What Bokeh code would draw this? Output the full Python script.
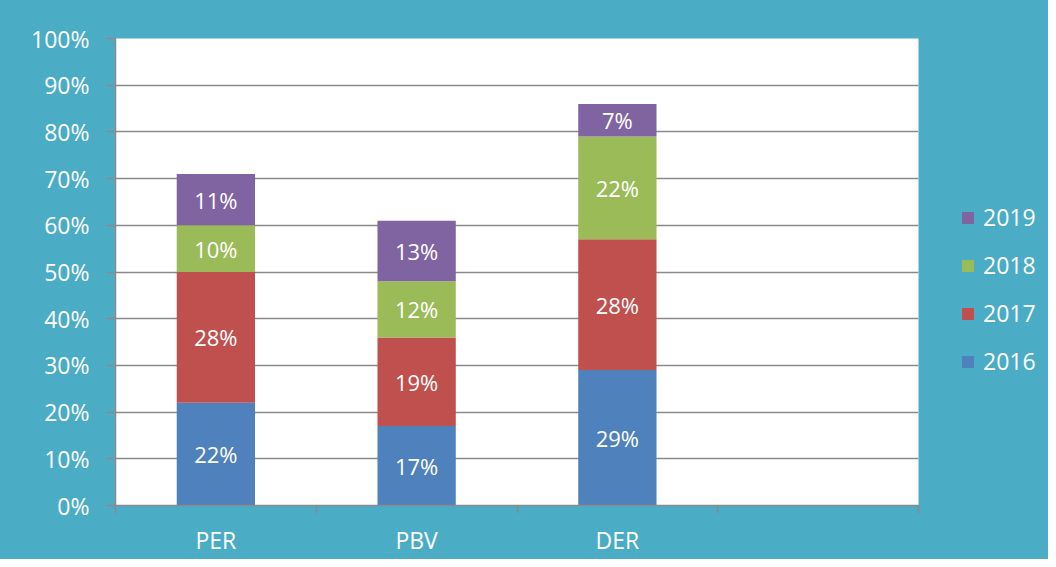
from bokeh.plotting import figure
from bokeh.layouts import row
from bokeh.models import (ColumnDataSource, FixedTicker, NumeralTickFormatter,
                          Legend, LegendItem, Range1d)
from bokeh.core.properties import value
from bokeh.embed import file_html
from bokeh.resources import INLINE

categories = ["PER", "PBV", "DER"]
years = ["2016", "2017", "2018", "2019"]
v2016 = [22, 17, 29]
v2017 = [28, 19, 28]
v2018 = [10, 12, 22]
v2019 = [11, 13, 7]
colors = ["#4F81BD", "#C0504D", "#9BBB59", "#8064A2"]
y_ticks = [0, 10, 20, 30, 40, 50, 60, 70, 80, 90, 100]

FONT = "Open Sans"
TEAL = "#4BACC6"
GRAY = "#8A8A8A"
FS = "23px"

series = [v2016, v2017, v2018, v2019]
n_slots = len(categories) + 1  # one empty slot on the right
xs = [i + 0.5 for i in range(len(categories))]

data = {"x": xs}
for y, vals in zip(years, series):
    data[y] = [v / 100 for v in vals]
source = ColumnDataSource(data)

p = figure(width=938, height=559, output_backend="svg", toolbar_location=None,
           x_range=Range1d(0, n_slots), y_range=Range1d(0, 1),
           min_border_left=115, min_border_right=20, min_border_top=38,
           min_border_bottom=54)
p.background_fill_color = "white"
p.border_fill_color = TEAL
p.outline_line_color = None

p.vbar_stack(years, x="x", width=0.39, color=colors, source=source, line_color=None)

# segment labels
lx, ly, lt = [], [], []
for j in range(len(categories)):
    base = 0.0
    for vals in series:
        v = vals[j] / 100
        lx.append(xs[j])
        ly.append(base + v / 2)
        lt.append(f"{vals[j]}%")
        base += v
p.text(x=lx, y=ly, text=lt, text_color="white", text_font=value(FONT),
       text_font_size="22px", text_align="center", text_baseline="middle")

# y axis
p.yaxis.ticker = FixedTicker(ticks=[t / 100 for t in y_ticks])
p.yaxis.formatter = NumeralTickFormatter(format="0%")
p.yaxis.axis_line_color = GRAY
p.yaxis.axis_line_width = 1.5
p.yaxis.major_tick_line_color = GRAY
p.yaxis.major_tick_line_width = 1.5
p.yaxis.major_tick_out = 9
p.yaxis.major_tick_in = 0
p.yaxis.minor_tick_line_color = None
p.yaxis.major_label_text_color = "white"
p.yaxis.major_label_text_font = FONT
p.yaxis.major_label_text_font_size = FS
p.yaxis.major_label_standoff = 17

# x axis
p.xaxis.ticker = FixedTicker(ticks=xs, minor_ticks=list(range(n_slots + 1)))
p.xaxis.major_label_overrides = {x: c for x, c in zip(xs, categories)}
p.xaxis.axis_line_color = GRAY
p.xaxis.axis_line_width = 1.5
p.xaxis.major_tick_line_color = None
p.xaxis.major_tick_out = 0
p.xaxis.major_tick_in = 0
p.xaxis.minor_tick_line_color = GRAY
p.xaxis.minor_tick_line_width = 1.5
p.xaxis.minor_tick_out = 8
p.xaxis.minor_tick_in = 0
p.xaxis.major_label_text_color = "white"
p.xaxis.major_label_text_font = FONT
p.xaxis.major_label_text_font_size = FS
p.xaxis.major_label_standoff = 10

p.xgrid.grid_line_color = None
p.ygrid.grid_line_color = GRAY
p.ygrid.grid_line_width = 1.5
p.ygrid.ticker = FixedTicker(ticks=[t / 100 for t in y_ticks])

# legend panel: a second, axis-less figure whose own (hidden) stack feeds the legend
pl = figure(width=110, height=559, output_backend="svg", toolbar_location=None,
            x_range=Range1d(100, 101), y_range=Range1d(5, 6),
            min_border_left=0, min_border_right=0, min_border_top=0,
            min_border_bottom=0)
pl.background_fill_alpha = 0
pl.border_fill_color = TEAL
pl.outline_line_color = None
pl.axis.visible = False
pl.grid.visible = False
lr = pl.vbar_stack(years, x="x", width=0.39, color=colors, source=source,
                   line_color=None)
for r in lr:
    r.visible = False

items = [LegendItem(label=y, renderers=[r]) for y, r in zip(years, lr)][::-1]
legend = Legend(items=items, location=(22, 128), padding=0, margin=0,
                glyph_width=15, glyph_height=15, label_standoff=8, spacing=16,
                label_text_color="white", label_text_font=FONT,
                label_text_font_size=FS, border_line_color=None,
                background_fill_alpha=0, click_policy="none")
pl.add_layout(legend)

layout = row(p, pl, spacing=0)
layout.styles = {"background-color": TEAL}
open("out.html", "w").write(file_html(layout, INLINE))
